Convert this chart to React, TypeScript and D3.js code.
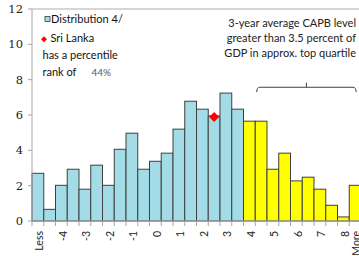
import React from 'react';
import {scaleBand, scaleLinear, range} from 'd3';

// category labels on the x axis (only every other one shown, plus "More")
const xLabels = ['Less', '', '-4', '', '-3', '', '-2', '', '-1', '', '0', '', '1', '', '2', '', '3', '', '4', '', '5', '', '6', '', '7', '', '8', 'More'];

// distribution bars, light blue part and the top-quartile (yellow) part
const blueValues = [2.7, 0.66, 2.02, 2.93, 1.8, 3.16, 2.02, 4.06, 4.97, 2.93, 3.38, 3.84, 5.2, 6.78, 6.33, 5.95, 7.24, 6.33];
const yellowValues = [5.65, 5.65, 2.93, 3.84, 2.27, 2.48, 1.8, 0.89, 0.23, 2.02];

// Sri Lanka marker
const sriLankaIndex = 15;
const sriLankaValue = 5.88;

const yTicks = [0, 2, 4, 6, 8, 10, 12];

const noteLines = ['3-year average CAPB level', 'greater than 3.5 percent of', 'GDP in approx. top quartile'];

const W = 359;
const H = 256;
const margin = {top: 9, right: -2, bottom: 35, left: 32};

const sans = 'Lato, "Liberation Sans", sans-serif';

const App = () => {
  const values = blueValues.concat(yellowValues);
  const x = scaleBand<number>()
    .domain(range(values.length))
    .range([margin.left, W - margin.right])
    .padding(0);
  const y = scaleLinear().domain([0, 12]).range([H - margin.bottom, margin.top]);
  const bw = x.bandwidth();
  const y0 = y(0);

  const bars = values.map((v, i) => ({v, i, yellow: i >= blueValues.length}));
  const edges = range(values.length + 1).map((i) => margin.left + i * bw);

  // bracket over the yellow bars
  const bl = x(19)! + 1.5;
  const br = x(27)! + bw * 0.58;
  const bMid = (bl + br) / 2;
  const bY = y(7.57);

  const dx = x(sriLankaIndex)! + bw / 2;
  const dy = y(sriLankaValue);

  return (
    <svg width={W} height={H} style={{position: 'absolute', left: 0, top: 0}}>
      {/* top border line */}
      <line x1={margin.left} x2={W} y1={y(12)} y2={y(12)} stroke="#c8c8c8" strokeWidth={1.5} />

      {bars.map((d) => (
        <rect key={d.i} x={x(d.i)} y={y(d.v)} width={bw} height={y0 - y(d.v)}
          fill={d.yellow ? '#ffff00' : '#a3dce6'} stroke="#3f3f3f" strokeWidth={1} />
      ))}

      {/* y axis */}
      <line x1={margin.left} x2={margin.left} y1={y(12)} y2={y0} stroke="#a6a6a6" />
      {yTicks.map((t) => (
        <g key={t}>
          <line x1={margin.left - 4} x2={margin.left} y1={y(t)} y2={y(t)} stroke="#a6a6a6" />
          <text x={23} y={y(t)} dy="0.35em" textAnchor="end" fontFamily='"DejaVu Serif", serif'
            fontSize={11.5} fill="#222">{t}</text>
        </g>
      ))}

      {/* x axis */}
      <line x1={margin.left} x2={W} y1={y0} y2={y0} stroke="#a6a6a6" />
      {edges.map((e, i) => (
        <line key={i} x1={e} x2={e} y1={y0} y2={y0 + 5} stroke="#a6a6a6" />
      ))}
      {xLabels.map((l, i) => l && (
        <text key={i} transform={`translate(${x(i)! + bw / 2 + 1.5},${y0 + 10}) rotate(-90)`}
          dy="0.35em" textAnchor="end" fontFamily={sans} fontSize={10.5} fill="#222">{l}</text>
      ))}

      {/* Sri Lanka diamond */}
      <path d={`M${dx},${dy - 5}L${dx + 5},${dy}L${dx},${dy + 5}L${dx - 5},${dy}Z`} fill="#ff0000" />

      {/* legend */}
      <rect x={45} y={16.5} width={5} height={5} fill="#a3dce6" stroke="#3f3f3f" strokeWidth={0.8} />
      <text x={51} y={23.3} fontFamily={sans} fontSize={11} fill="#111">Distribution 4/</text>
      <path d="M44,36.3L47,39.3L44,42.3L41,39.3Z" fill="#ff0000" />
      <text x={50.5} y={42.3} fontFamily={sans} fontSize={11} fill="#111">Sri Lanka</text>
      <text x={42.5} y={59.3} fontFamily={sans} fontSize={11} fill="#111">has a percentile</text>
      <text x={42.5} y={75.7} fontFamily={sans} fontSize={11} fill="#111">rank of</text>
      <text x={91.5} y={75.7} fontFamily={sans} fontSize={10} fill="#595959">44%</text>

      {/* annotation */}
      {noteLines.map((t, i) => (
        <text key={i} x={356} y={27 + i * 15} textAnchor="end" fontFamily={sans} fontSize={11} fill="#222">{t}</text>
      ))}
      <path d={`M${bl},${y(7.3)}Q${bl},${bY} ${bl + 3},${bY}L${br - 3},${bY}Q${br},${bY} ${br},${y(7.3)}`}
        fill="none" stroke="#404040" strokeWidth={1} />
      <line x1={bMid} x2={bMid} y1={bY} y2={y(7.83)} stroke="#404040" />
    </svg>
  );
};

export default App;
